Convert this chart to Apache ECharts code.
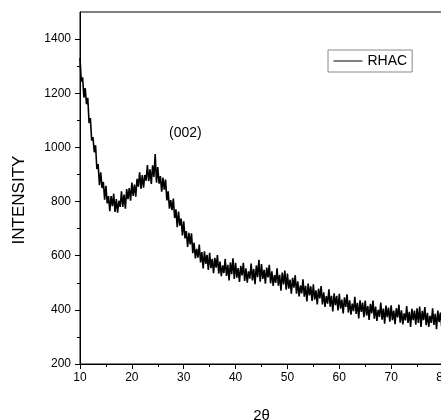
<!DOCTYPE html>
<html>
<head>
<meta charset="utf-8">
<script src="https://cdn.jsdelivr.net/npm/echarts@6/dist/echarts.min.js"></script>
<style>
html,body{margin:0;padding:0;background:#fff;}
#chart{width:441px;height:420px;}
</style>
</head>
<body>
<div id="chart"></div>
<script>
// 2θ scan positions (degrees)
const twoTheta = [
10,10.25,10.5,10.75,11,11.25,11.5,11.75,12,12.25,12.5,12.75,13,13.25,13.5,13.75,14,14.25,14.5,14.75,
15,15.25,15.5,15.75,16,16.25,16.5,16.75,17,17.25,17.5,17.75,18,18.25,18.5,18.75,19,19.25,19.5,19.75,
20,20.25,20.5,20.75,21,21.25,21.5,21.75,22,22.25,22.5,22.75,23,23.25,23.5,23.75,24,24.25,24.5,24.75,
25,25.25,25.5,25.75,26,26.25,26.5,26.75,27,27.25,27.5,27.75,28,28.25,28.5,28.75,29,29.25,29.5,29.75,
30,30.25,30.5,30.75,31,31.25,31.5,31.75,32,32.25,32.5,32.75,33,33.25,33.5,33.75,34,34.25,34.5,34.75,
35,35.25,35.5,35.75,36,36.25,36.5,36.75,37,37.25,37.5,37.75,38,38.25,38.5,38.75,39,39.25,39.5,39.75,
40,40.25,40.5,40.75,41,41.25,41.5,41.75,42,42.25,42.5,42.75,43,43.25,43.5,43.75,44,44.25,44.5,44.75,
45,45.25,45.5,45.75,46,46.25,46.5,46.75,47,47.25,47.5,47.75,48,48.25,48.5,48.75,49,49.25,49.5,49.75,
50,50.25,50.5,50.75,51,51.25,51.5,51.75,52,52.25,52.5,52.75,53,53.25,53.5,53.75,54,54.25,54.5,54.75,
55,55.25,55.5,55.75,56,56.25,56.5,56.75,57,57.25,57.5,57.75,58,58.25,58.5,58.75,59,59.25,59.5,59.75,
60,60.25,60.5,60.75,61,61.25,61.5,61.75,62,62.25,62.5,62.75,63,63.25,63.5,63.75,64,64.25,64.5,64.75,
65,65.25,65.5,65.75,66,66.25,66.5,66.75,67,67.25,67.5,67.75,68,68.25,68.5,68.75,69,69.25,69.5,69.75,
70,70.25,70.5,70.75,71,71.25,71.5,71.75,72,72.25,72.5,72.75,73,73.25,73.5,73.75,74,74.25,74.5,74.75,
75,75.25,75.5,75.75,76,76.25,76.5,76.75,77,77.25,77.5,77.75,78,78.25,78.5,78.75,79,79.25,79.5,79.75,
80
];
// RHAC intensity readings
const intensity = [
1330,1243,1259,1184, 1219,1160,1183,1090, 1108,1026,1038,982, 1008,920,938,860, 908,850,872,807,
858,793,820,764, 820,783,829,762, 809,759,803,780, 838,780,826,774, 846,809,850,803,
870,821,863,818, 884,855,908,847, 898,851,898,877, 935,875,919,865, 934,891,975,870,
927,866,894,836, 888,844,881,804, 838,774,805,768, 811,739,771,705, 763,711,737,675,
727,664,691,632, 684,642,683,609, 648,590,625,593, 641,575,613,553, 616,570,603,547,
611,554,588,535, 592,556,602,534, 578,524,564,536, 588,525,566,509, 575,532,590,514,
574,519,554,503, 562,527,574,507, 553,500,542,515, 571,509,551,495, 564,521,585,504,
569,514,548,497, 556,520,566,498, 542,488,528,500, 553,489,529,471, 538,494,545,474,
534,478,512,460, 518,482,528,460, 505,450,490,461, 513,449,489,431, 497,453,487,433,
494,438,472,420, 478,442,488,420, 465,411,451,423, 476,412,452,394, 461,417,452,398,
459,404,438,387, 446,411,457,390, 435,382,423,395, 448,385,426,368, 435,392,427,373,
434,379,414,363, 422,387,434,367, 412,359,400,374, 427,364,405,349, 416,373,408,356,
417,362,397,347, 406,372,419,353, 398,346,387,361, 414,352,393,337, 404,362,397,345,
406,352,412,337, 396,362,410,343, 389,337,378,352, 406,344,385,329, 397,355,390,338,
380
];
const xTicks = [10,20,30,40,50,60,70,80];
const yMajorTicks = [200,400,600,800,1000,1200,1400];
const yMinorTicks = [300,500,700,900,1100,1300];
const seriesName = 'RHAC';
const peakLabel = '(002)';

const FONT = "'Liberation Sans', Arial, sans-serif";
const chart = echarts.init(document.getElementById('chart'), null, {renderer:'canvas'});
const pts = twoTheta.map((x,i)=>[x,intensity[i]]);
chart.setOption({
  animation:false,
  backgroundColor:'#fff',
  textStyle:{fontFamily:FONT,color:'#000'},
  grid:{left:80,top:12,right:-2,bottom:56,containLabel:false,outerBoundsMode:'none',
        show:true,borderColor:'#000',borderWidth:1,backgroundColor:'transparent'},
  legend:{
    left:328,top:50,
    data:[seriesName],
    itemWidth:29,itemHeight:14,itemGap:5,
    padding:[4,5,4,5],
    borderColor:'#888',borderWidth:1,borderRadius:0,
    itemStyle:{opacity:0},
    lineStyle:{color:'#000',width:1},
    textStyle:{fontFamily:FONT,fontSize:14,color:'#000',padding:[0,0,0,0]}
  },
  xAxis:{
    type:'value',min:xTicks[0],max:xTicks[xTicks.length-1],interval:10,
    name:'2θ',nameLocation:'middle',nameGap:44,
    nameTextStyle:{fontFamily:FONT,fontSize:15,color:'#000'},
    axisLine:{show:true,lineStyle:{color:'#000',width:1}},
    axisTick:{show:true,length:5,lineStyle:{color:'#000'}},
    minorTick:{show:true,splitNumber:2,length:3,lineStyle:{color:'#000'}},
    axisLabel:{fontFamily:FONT,fontSize:12,color:'#000',margin:8,formatter:v=>String(v)},
    splitLine:{show:false}
  },
  yAxis:[{
    type:'value',min:200,max:1500,
    name:'INTENSITY',nameLocation:'middle',nameGap:52,nameRotate:90,
    nameTextStyle:{fontFamily:FONT,fontSize:17,color:'#000',padding:[0,24,0,0]},
    axisLine:{show:true,lineStyle:{color:'#000',width:1}},
    axisTick:{show:true,length:5,customValues:yMajorTicks,lineStyle:{color:'#000'}},
    axisLabel:{fontFamily:FONT,fontSize:12,color:'#000',margin:9,customValues:yMajorTicks,formatter:v=>String(v)},
    splitLine:{show:false}
  },{
    type:'value',min:200,max:1500,position:'left',
    axisLine:{show:false},
    axisTick:{show:true,length:3,customValues:yMinorTicks,lineStyle:{color:'#000'}},
    axisLabel:{show:false},
    splitLine:{show:false}
  }],
  graphic:[{
    type:'text',left:169,top:126,
    style:{text:peakLabel,fontFamily:FONT,fontSize:14,fill:'#000'}
  }],
  series:[{
    name:seriesName,type:'line',data:pts,yAxisIndex:0,
    symbol:'none',showSymbol:false,
    lineStyle:{color:'#000',width:1.6},
    itemStyle:{color:'#000'}
  }]
});
</script>
</body>
</html>
